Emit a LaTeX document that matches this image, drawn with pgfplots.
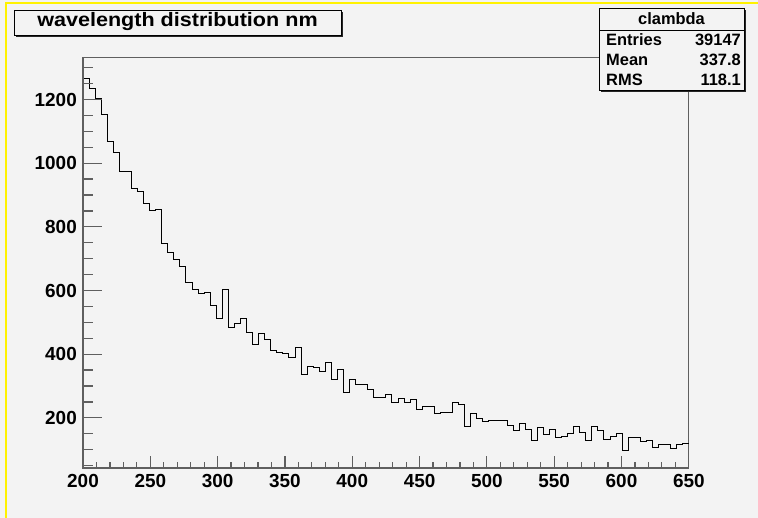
\documentclass[border=0pt]{standalone}
\usepackage{fontspec}
\setmainfont{Liberation Sans}
\usepackage{pgfplots}
\pgfplotsset{compat=1.18}
\usepackage{pgfplotstable}
\definecolor{rootbg}{RGB}{243,243,243}
\definecolor{framegray}{RGB}{95,95,95}

% clambda: left bin edge (nm) and counts, 100 bins of 4.5 nm
\pgfplotstableread{
x y
200 1267
204.5 1233
209 1202
213.5 1154
218 1069
222.5 1035
227 973
231.5 973
236 921
240.5 912
245 874
249.5 850
254 856
258.5 747
263 720
267.5 696
272 675
276.5 626
281 603
285.5 591
290 594
294.5 553
299 512
303.5 604
308 485
312.5 495
317 512
321.5 467
326 430
330.5 464
335 446
339.5 410
344 404
348.5 401
353 388
357.5 420
362 335
366.5 362
371 357
375.5 345
380 375
384.5 320
389 351
393.5 279
398 320
402.5 304
407 304
411.5 290
416 265
420.5 265
425 272
429.5 249
434 262
438.5 249
443 259
447.5 225
452 235
456.5 235
461 214
465.5 218
470 218
474.5 249
479 242
483.5 172
488 214
492.5 197
497 187
501.5 193
506 191
510.5 191
515 176
519.5 160
524 181
528.5 163
533 128
537.5 169
542 149
546.5 163
551 139
555.5 142
560 151
564.5 172
569 153
573.5 128
578 172
582.5 160
587 132
591.5 140
596 151
600.5 98
605 137
609.5 139
614 127
618.5 129
623 108
627.5 115
632 115
636.5 105
641 116
645.5 120
650 120
}\clambda

\pgfplotsset{rootframe/.style={at={(83bp,50bp)}, anchor=south west, scale only axis,
  width=605.8bp, height=410.5bp,
  xmin=200, xmax=650, ymin=42.4, ymax=1332,
  axis line style={framegray, line width=1.3bp},
  tick align=inside, tick style={framegray, line width=1.2bp}}}

\begin{document}
\begin{tikzpicture}[x=1bp,y=1bp]
\useasboundingbox (0,0) rectangle (758,518);
\fill[rootbg] (0,0) rectangle (758,518);
\draw[yellow, line width=2bp] (6,0) -- (6,514.5) -- (758,514.5);

% frame, histogram and x ticks
\begin{axis}[rootframe,
  xtick pos=bottom,
  xtick={200,250,...,650}, xticklabels={200,250,300,350,400,450,500,550,600,650},
  minor xtick={200,210,...,650},
  ytick=\empty,
  major tick length=12bp, minor tick length=6bp,
  xticklabel style={font=\fontsize{19}{19}\selectfont\bfseries, inner sep=0pt, anchor=north, yshift=-6bp},
]
\addplot[const plot, black, line width=1bp, mark=none] table[x=x, y=y] {\clambda};
\end{axis}

% y ticks (longer than the x ticks)
\begin{axis}[rootframe,
  hide x axis, axis y line*=left,
  ytick={200,400,...,1200}, yticklabels={200,400,600,800,1000,1200},
  minor ytick={50,100,...,1300},
  major tick length=19bp, minor tick length=9.5bp,
  yticklabel style={font=\fontsize{19}{19}\selectfont\bfseries, inner sep=0pt, anchor=east, xshift=-6bp},
]
\end{axis}

% title box
\fill[black!85] (16,481) rectangle (343,506);
\filldraw[fill=rootbg, draw=black, line width=0.8bp] (14,483) rectangle (341,508);
\node[font=\fontsize{19.5}{20}\selectfont\bfseries] at (177.5,496) {\scalebox{1.11}[1]{wavelength distribution nm}};

% stats box
\fill[black!85] (601,426) rectangle (746,508);
\filldraw[fill=rootbg, draw=black, line width=0.8bp] (599,428) rectangle (744,510);
\draw[black, line width=0.8bp] (599,488) -- (744,488);
\begin{scope}[every node/.style={font=\fontsize{16.5}{17}\selectfont\bfseries, inner sep=0pt}]
\node[anchor=base] at (671.5,493.5) {clambda};
\node[anchor=base west] at (606,472.3) {Entries};
\node[anchor=base east] at (741,472.3) {39147};
\node[anchor=base west] at (606,452.3) {Mean};
\node[anchor=base east] at (741,452.3) {337.8};
\node[anchor=base west] at (606,432.7) {RMS};
\node[anchor=base east] at (741,432.7) {118.1};
\end{scope}
\end{tikzpicture}
\end{document}
